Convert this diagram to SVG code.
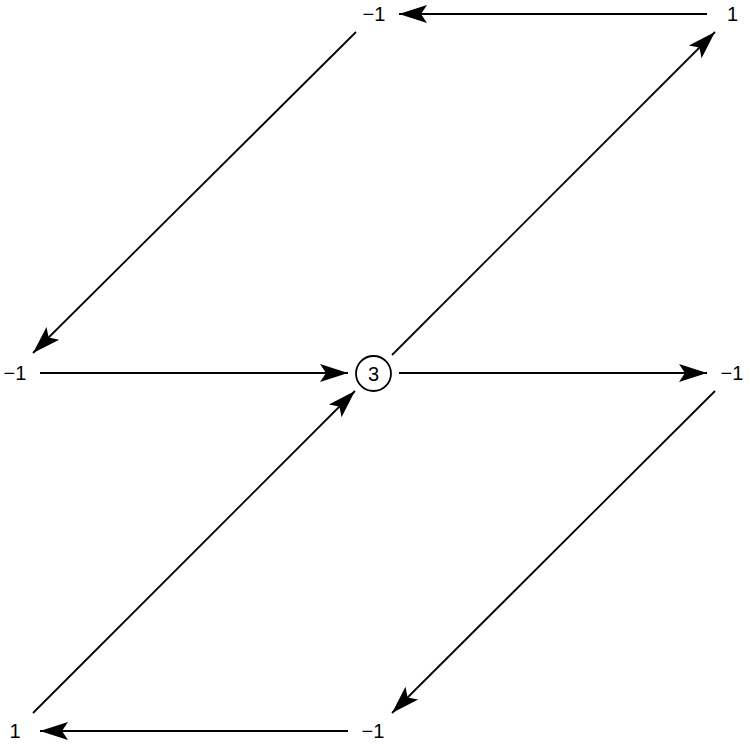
<svg xmlns="http://www.w3.org/2000/svg" width="750" height="748" viewBox="0 0 750 748">
<style>
.edge{stroke:#000;stroke-width:1.8;fill:none;marker-end:url(#ah)}
.node-circle{fill:#fff;stroke:#000;stroke-width:1.8}
</style>
<defs>
<marker id="ah" markerUnits="userSpaceOnUse" markerWidth="32" markerHeight="20" viewBox="-30 -10 32 20" refX="0" refY="0" orient="auto">
<path d="M0,0 L-28,-9 L-22,0 L-28,9 Z" fill="#000"/>
</marker>
</defs>
<rect width="750" height="748" fill="#fff"/>
<g id="connectors">
<line class="edge" x1="707" y1="14" x2="399" y2="14"/>
<line class="edge" x1="356" y1="32" x2="33" y2="353"/>
<line class="edge" x1="40" y1="373" x2="348" y2="373"/>
<line class="edge" x1="33" y1="713" x2="355" y2="391"/>
<line class="edge" x1="392" y1="355" x2="715" y2="32"/>
<line class="edge" x1="399" y1="373" x2="707" y2="373"/>
<line class="edge" x1="715" y1="391" x2="392" y2="713"/>
<line class="edge" x1="348" y1="731" x2="40" y2="731"/>
</g>
<g font-family="'Liberation Sans', Arial, sans-serif" font-size="20" fill="#000" text-anchor="middle">
<g id="n-top-mid"><text x="374" y="21">−1</text></g>
<g id="n-top-right"><text x="732.5" y="21">1</text></g>
<g id="n-left"><text x="15" y="380">−1</text></g>
<g id="n-center"><circle class="node-circle" cx="373.5" cy="373.5" r="17.5"/><text x="373.5" y="380.5">3</text></g>
<g id="n-right"><text x="732" y="380">−1</text></g>
<g id="n-bottom-left"><text x="15" y="738">1</text></g>
<g id="n-bottom-mid"><text x="373" y="738">−1</text></g>
</g>
</svg>
